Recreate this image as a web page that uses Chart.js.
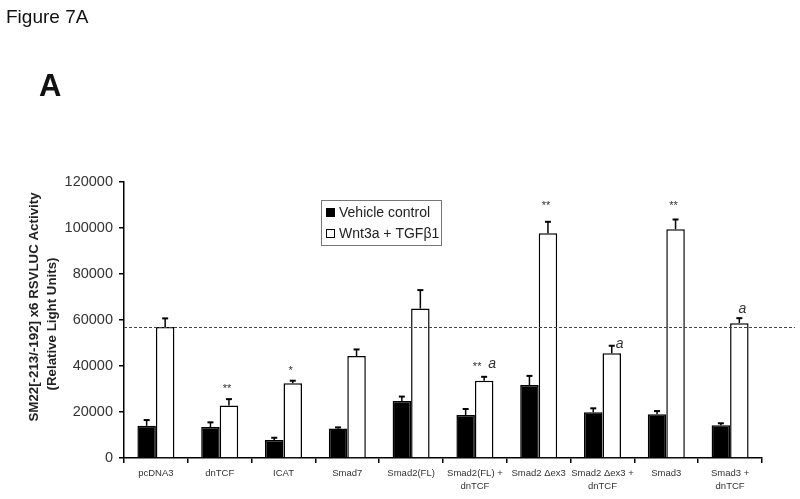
<!DOCTYPE html>
<html>
<head>
<meta charset="utf-8">
<title>Figure 7A</title>
<script src="https://cdn.jsdelivr.net/npm/chart.js@4.4.0/dist/chart.umd.min.js"></script>
<style>
  html, body { margin: 0; padding: 0; background: #fff; }
  #wrap { position: relative; width: 800px; height: 499px; }
</style>
</head>
<body>
<div id="wrap"><canvas id="fig7a" width="800" height="499"></canvas></div>
<script>
// values
const categories = ['pcDNA3', 'dnTCF', 'ICAT', 'Smad7', 'Smad2(FL)', ['Smad2(FL) +', 'dnTCF'],
    'Smad2 Δex3', ['Smad2 Δex3 +', 'dnTCF'], 'Smad3', ['Smad3 +', 'dnTCF']];
const vehicleValues = [14000, 13500, 7800, 12800, 24800, 18700, 31700, 19900, 19000, 14200];
const vehicleErrors = [2500, 2000, 1000, 500, 1900, 2600, 4000, 1700, 1400, 900];
const wntValues = [57000, 22800, 32500, 44300, 65000, 33600, 97700, 45500, 99500, 58600];
const wntErrors = [3700, 2800, 1100, 2900, 8000, 1700, 5000, 3300, 4200, 2200];
const starMarks = ['', '**', '*', '', '', '**', '**', '', '**', ''];
const letterMarks = ['', '', '', '', '', 'a', '', 'a', '', 'a'];
const referenceLevel = 57000;
const yTicks = [0, 20000, 40000, 60000, 80000, 100000, 120000];

const errors = [vehicleErrors, wntErrors];

// upward error bars, drawn over the bars
const errorBars = {
    id: 'errorBars',
    afterDatasetsDraw(chart) {
        const { ctx, scales: { y } } = chart;
        ctx.save();
        ctx.strokeStyle = '#000';
        chart.data.datasets.forEach((ds, i) => {
            const meta = chart.getDatasetMeta(i);
            meta.data.forEach((bar, j) => {
                const top = y.getPixelForValue(ds.data[j]);
                const end = y.getPixelForValue(ds.data[j] + errors[i][j]);
                ctx.lineWidth = 1.5;
                ctx.beginPath();
                ctx.moveTo(bar.x, top);
                ctx.lineTo(bar.x, end);
                ctx.stroke();
                ctx.lineWidth = 2;
                ctx.beginPath();
                ctx.moveTo(bar.x - 3, end);
                ctx.lineTo(bar.x + 3, end);
                ctx.stroke();
            });
        });
        ctx.restore();
    }
};

// dashed reference line, stars and letters, legend, headings
const decorations = {
    id: 'decorations',
    beforeDraw(chart) {
        const { ctx, width, height } = chart;
        ctx.save();
        ctx.fillStyle = '#fff';
        ctx.fillRect(0, 0, width, height);
        ctx.restore();
    },
    afterDraw(chart) {
        const { ctx, chartArea, scales: { y } } = chart;
        ctx.save();

        // reference line
        const ry = Math.round(y.getPixelForValue(referenceLevel)) + 0.5;
        ctx.strokeStyle = '#444';
        ctx.lineWidth = 1;
        ctx.setLineDash([3, 2]);
        ctx.beginPath();
        ctx.moveTo(chartArea.left, ry);
        ctx.lineTo(795, ry);
        ctx.stroke();
        ctx.setLineDash([]);

        // significance marks above the Wnt3a + TGFβ1 bars
        const meta = chart.getDatasetMeta(1);
        meta.data.forEach((bar, j) => {
            const end = y.getPixelForValue(wntValues[j] + wntErrors[j]);
            const stars = starMarks[j];
            const letter = letterMarks[j];
            ctx.fillStyle = '#333';
            ctx.textBaseline = 'alphabetic';
            if (stars) {
                ctx.font = '11px Arial, "Liberation Sans", sans-serif';
                ctx.textAlign = 'center';
                const sy = end > 300 ? end - 7 : 209;
                const sx = letter ? bar.x - 7 : bar.x - 2;
                ctx.fillText(stars, sx, sy);
            }
            if (letter) {
                ctx.font = 'italic 14px Arial, "Liberation Sans", sans-serif';
                ctx.textAlign = 'center';
                if (stars) {
                    ctx.fillText(letter, bar.x + 8, end - 9);
                } else if (j === 7) {
                    ctx.fillText(letter, bar.x + 8, end + 2);
                } else {
                    ctx.fillText(letter, bar.x + 3, end - 5);
                }
            }
        });

        // legend box
        const lx = 321.5, ly = 200.5, lw = 120, lh = 45;
        ctx.strokeStyle = '#777';
        ctx.lineWidth = 1;
        ctx.strokeRect(lx, ly, lw, lh);
        ctx.font = '14px Arial, "Liberation Sans", sans-serif';
        ctx.textAlign = 'left';
        ctx.textBaseline = 'middle';
        chart.data.datasets.forEach((ds, i) => {
            const cy = 212.5 + i * 21;
            ctx.fillStyle = ds.backgroundColor;
            ctx.fillRect(326.5, cy - 4, 8, 8);
            ctx.strokeStyle = '#000';
            ctx.lineWidth = 1;
            ctx.strokeRect(326.5, cy - 4, 8, 8);
            ctx.fillStyle = '#222';
            ctx.fillText(ds.label, 339, cy + 1);
        });

        // axis title, two rotated lines
        ctx.fillStyle = '#222';
        ctx.font = 'bold 13.3px Arial, "Liberation Sans", sans-serif';
        ctx.textAlign = 'center';
        ctx.textBaseline = 'middle';
        ctx.save();
        ctx.translate(34, 307);
        ctx.rotate(-Math.PI / 2);
        ctx.fillText('SM22[-213/-192] x6 RSVLUC Activity', 0, 0);
        ctx.restore();
        ctx.save();
        ctx.translate(52, 324);
        ctx.rotate(-Math.PI / 2);
        ctx.fillText('(Relative Light Units)', 0, 0);
        ctx.restore();

        // headings
        ctx.textAlign = 'left';
        ctx.textBaseline = 'alphabetic';
        ctx.fillStyle = '#111';
        ctx.font = '19px Arial, "Liberation Sans", sans-serif';
        ctx.fillText('Figure 7A', 6, 23);
        ctx.font = 'bold 31px Arial, "Liberation Sans", sans-serif';
        ctx.fillText('A', 39, 96);

        ctx.restore();
    }
};

new Chart(document.getElementById('fig7a'), {
    type: 'bar',
    data: {
        labels: categories,
        datasets: [
            {
                label: 'Vehicle control',
                data: vehicleValues,
                backgroundColor: '#000',
                borderColor: '#000',
                borderWidth: 1.5
            },
            {
                label: 'Wnt3a + TGFβ1',
                data: wntValues,
                backgroundColor: '#fff',
                borderColor: '#000',
                borderWidth: 1.5
            }
        ]
    },
    options: {
        responsive: false,
        animation: false,
        devicePixelRatio: 1,
        datasets: {
            bar: {
                categoryPercentage: 0.58,
                barPercentage: 1.0,
                borderSkipped: 'bottom'
            }
        },
        layout: {
            padding: { top: 182, right: 38, left: 0, bottom: 0 }
        },
        plugins: {
            legend: { display: false },
            tooltip: { enabled: false }
        },
        scales: {
            x: {
                grid: {
                    display: true,
                    drawOnChartArea: false,
                    drawTicks: true,
                    tickLength: 5,
                    offset: true,
                    color: '#000',
                    lineWidth: 1.5
                },
                border: { display: true, color: '#000', width: 1.5 },
                ticks: {
                    color: '#333',
                    padding: 3,
                    maxRotation: 0,
                    autoSkip: false,
                    font: { family: 'Arial, "Liberation Sans", sans-serif', size: 9.5, lineHeight: 1.45 }
                },
                afterFit(scale) { scale.height = 41; }
            },
            y: {
                min: 0,
                max: 120000,
                afterBuildTicks(scale) { scale.ticks = yTicks.map(v => ({ value: v })); },
                grid: {
                    display: true,
                    drawOnChartArea: false,
                    drawTicks: true,
                    tickLength: 5,
                    color: '#000',
                    lineWidth: 1.5
                },
                border: { display: true, color: '#000', width: 1.5 },
                ticks: {
                    color: '#333',
                    padding: 6,
                    font: { family: 'Arial, "Liberation Sans", sans-serif', size: 14.5 },
                    callback: (v) => String(v)
                },
                afterFit(scale) { scale.width = 124; }
            }
        }
    },
    plugins: [errorBars, decorations]
});
</script>
</body>
</html>
